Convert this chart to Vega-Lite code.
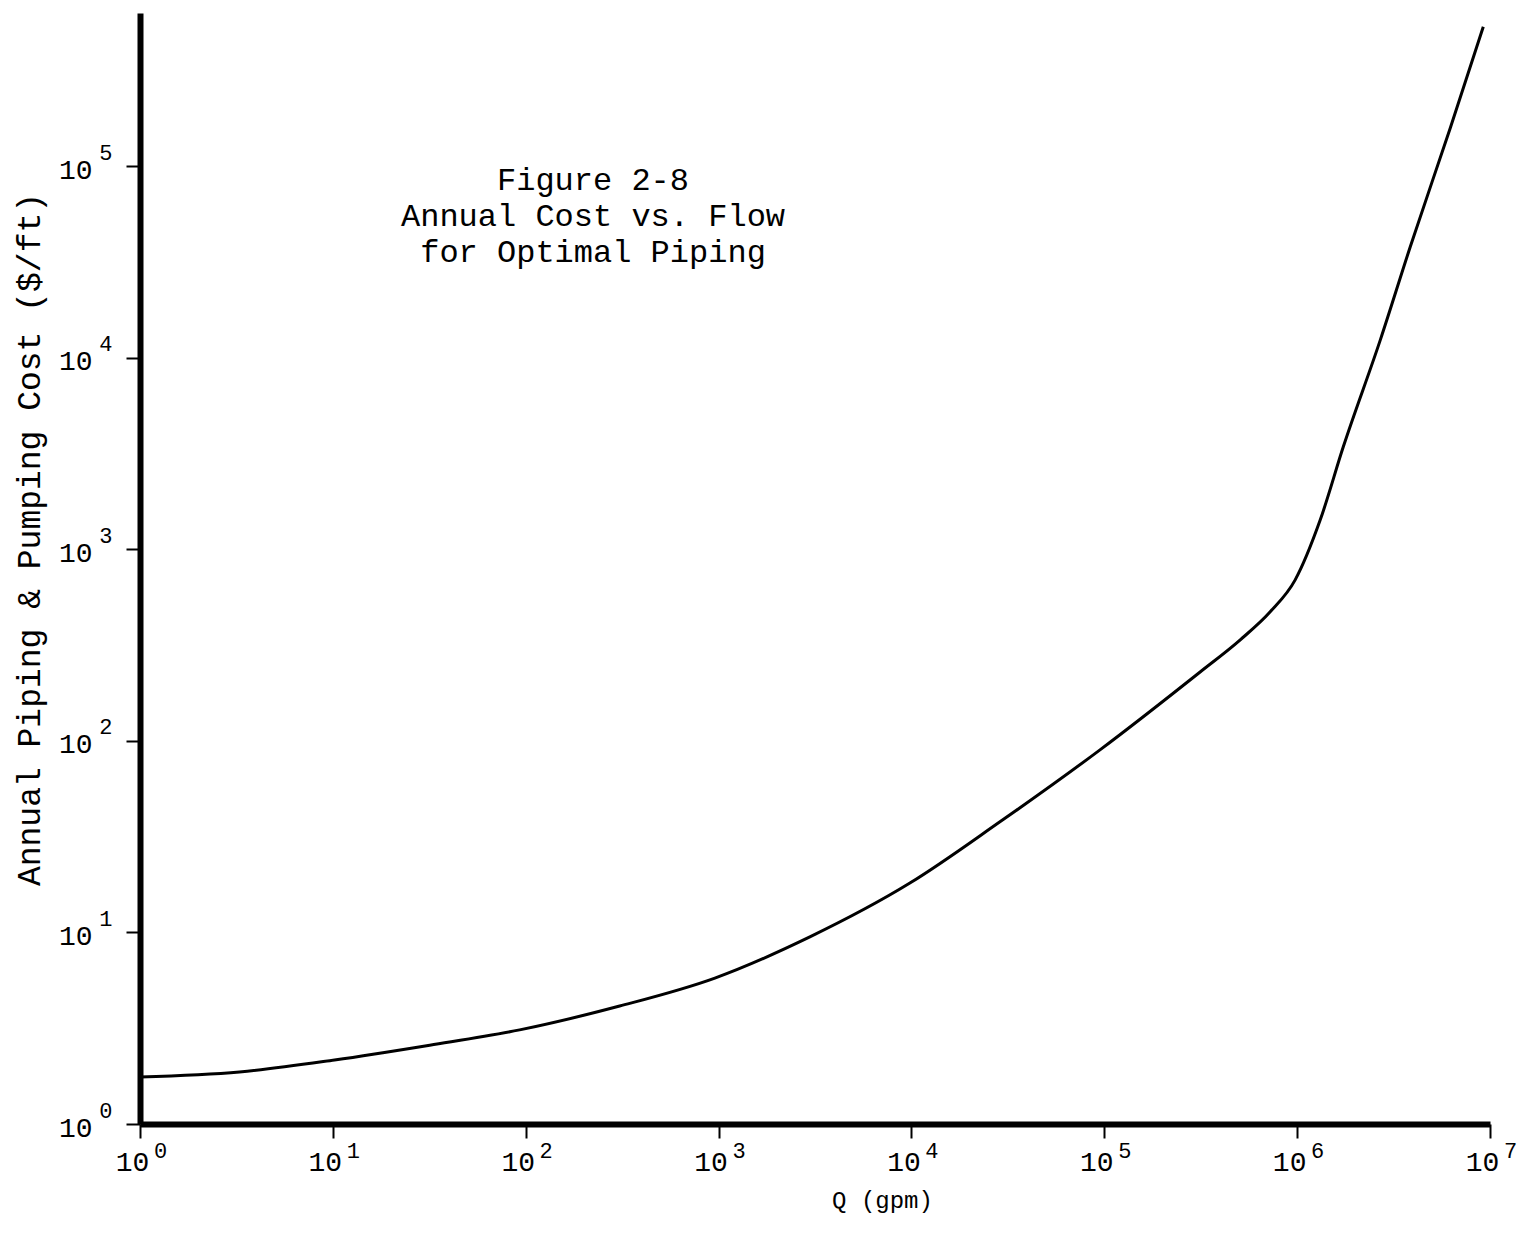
{
  "$schema": "https://vega.github.io/schema/vega-lite/v6.json",
  "width": 1350,
  "height": 1111,
  "autosize": "none",
  "padding": {"left": 140, "top": 13, "right": 31, "bottom": 111},
  "background": "white",
  "config": {"view": {"stroke": null}, "font": "Liberation Mono"},
  "title": {
    "text": ["Figure 2-8", "Annual Cost vs. Flow", "for Optimal Piping"],
    "font": "Liberation Mono",
    "fontSize": 32,
    "fontWeight": "normal",
    "color": "black",
    "anchor": "middle",
    "align": "center",
    "baseline": "top",
    "lineHeight": 36,
    "dx": -222,
    "dy": 260
  },
  "data": {
    "values": [
      {"Q": 1, "cost": 1.76},
      {"Q": 3.28, "cost": 1.87},
      {"Q": 10.2, "cost": 2.16},
      {"Q": 31.8, "cost": 2.58},
      {"Q": 93, "cost": 3.1},
      {"Q": 307, "cost": 4.13},
      {"Q": 957, "cost": 5.78},
      {"Q": 2974, "cost": 9.48},
      {"Q": 9820, "cost": 18.1},
      {"Q": 28770, "cost": 37.8},
      {"Q": 95000, "cost": 89.8},
      {"Q": 314000, "cost": 229},
      {"Q": 507000, "cost": 337},
      {"Q": 725000, "cost": 472},
      {"Q": 977000, "cost": 693},
      {"Q": 1318000, "cost": 1426},
      {"Q": 1735000, "cost": 3430},
      {"Q": 2700000, "cost": 12400},
      {"Q": 3860000, "cost": 38000},
      {"Q": 6230000, "cost": 159000},
      {"Q": 9230000, "cost": 535000}
    ]
  },
  "resolve": {"scale": {"x": "shared", "y": "shared"}, "axis": {"x": "independent", "y": "independent"}},
  "layer": [
    {
      "mark": {"type": "line", "color": "black", "strokeWidth": 3, "interpolate": "monotone", "clip": true},
      "encoding": {
        "x": {
          "field": "Q",
          "type": "quantitative",
          "scale": {"type": "log", "domain": [1, 10000000], "nice": false},
          "axis": {
            "orient": "bottom",
            "values": [1, 10, 100, 1000, 10000, 100000, 1000000, 10000000],
            "labelExpr": "'10'",
            "labelFont": "Liberation Mono",
            "labelFontSize": 28,
            "labelColor": "black",
            "labelPadding": 10,
            "labelOffset": -8,
            "labelFlush": false,
            "labelOverlap": false,
            "tickSize": 14,
            "tickWidth": 2,
            "tickColor": "black",
            "domainColor": "black",
            "domainWidth": 6,
            "grid": false,
            "title": "Q (gpm)",
            "titleFont": "Liberation Mono",
            "titleFontSize": 24,
            "titleFontWeight": "normal",
            "titleColor": "black",
            "titleX": 742,
            "titleY": 76,
            "titleBaseline": "middle"
          }
        },
        "y": {
          "field": "cost",
          "type": "quantitative",
          "scale": {"type": "log", "domain": [1, 631000], "nice": false},
          "axis": {
            "orient": "left",
            "values": [1, 10, 100, 1000, 10000, 100000],
            "labelExpr": "'10'",
            "labelFont": "Liberation Mono",
            "labelFontSize": 28,
            "labelColor": "black",
            "labelPadding": 34,
            "labelOffset": 4,
            "labelFlush": false,
            "labelOverlap": false,
            "tickSize": 14,
            "tickWidth": 2,
            "tickColor": "black",
            "domainColor": "black",
            "domainWidth": 6,
            "grid": false,
            "title": "Annual Piping & Pumping Cost ($/ft)",
            "titleFont": "Liberation Mono",
            "titleFontSize": 33,
            "titleFontWeight": "normal",
            "titleColor": "black",
            "titleX": -111,
            "titleY": 526,
            "titleBaseline": "middle",
            "titleAlign": "center",
            "titleAngle": -90
          }
        }
      }
    },
    {
      "mark": {"type": "point", "opacity": 0},
      "encoding": {
        "x": {
          "field": "Q",
          "type": "quantitative",
          "axis": {
            "orient": "bottom",
            "values": [1, 10, 100, 1000, 10000, 100000, 1000000, 10000000],
            "labelExpr": "'' + round(log(datum.value)/LN10)",
            "labelFont": "Liberation Mono",
            "labelFontSize": 22,
            "labelColor": "black",
            "labelPadding": 2,
            "labelOffset": 20,
            "labelFlush": false,
            "labelOverlap": false,
            "tickSize": 14,
            "tickOpacity": 0,
            "domain": false,
            "grid": false,
            "title": null
          }
        },
        "y": {
          "field": "cost",
          "type": "quantitative",
          "axis": {
            "orient": "left",
            "values": [1, 10, 100, 1000, 10000, 100000],
            "labelExpr": "'' + round(log(datum.value)/LN10)",
            "labelFont": "Liberation Mono",
            "labelFontSize": 22,
            "labelColor": "black",
            "labelPadding": 14,
            "labelOffset": -14,
            "labelFlush": false,
            "labelOverlap": false,
            "tickSize": 14,
            "tickOpacity": 0,
            "domain": false,
            "grid": false,
            "title": null
          }
        }
      }
    }
  ]
}
